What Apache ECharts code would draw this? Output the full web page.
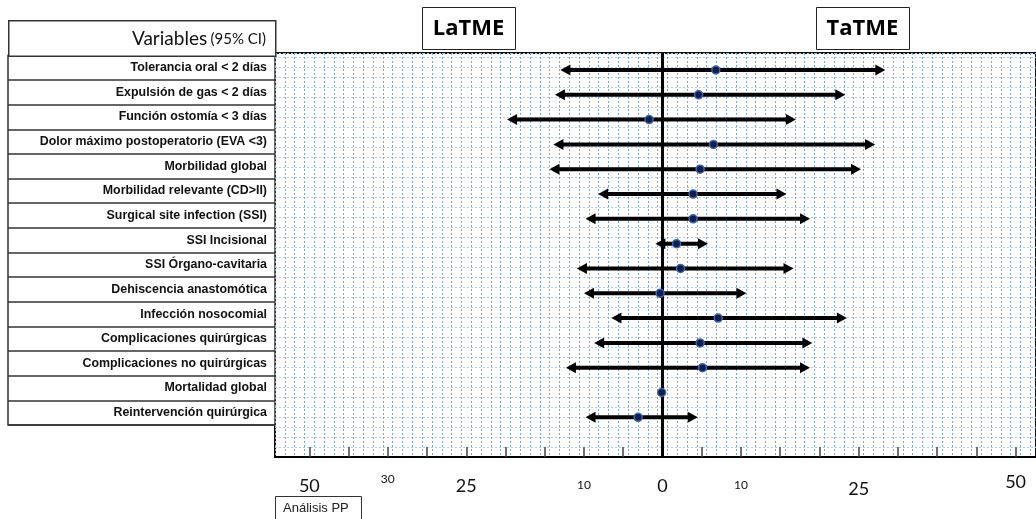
<!DOCTYPE html>
<html>
<head>
<meta charset="utf-8">
<script src="https://cdn.jsdelivr.net/npm/echarts@6/dist/echarts.min.js"></script>
<style>html,body{margin:0;padding:0;background:#fff}#c{width:1036px;height:519px}</style>
</head>
<body>
<div id="c"></div>
<script>
// ---- data ----
const categories = [
  'Tolerancia oral < 2 días',
  'Expulsión de gas < 2 días',
  'Función ostomía < 3 días',
  'Dolor máximo postoperatorio (EVA <3)',
  'Morbilidad global',
  'Morbilidad relevante (CD>II)',
  'Surgical site infection (SSI)',
  'SSI Incisional',
  'SSI Órgano-cavitaria',
  'Dehiscencia anastomótica',
  'Infección nosocomial',
  'Complicaciones quirúrgicas',
  'Complicaciones no quirúrgicas',
  'Mortalidad global',
  'Reintervención quirúrgica'
];
const ciLow    = [-13.0, -13.7, -19.8, -13.9, -14.4, -8.2, -9.8, -0.9, -10.9, -10.0, -6.5, -8.7, -12.3, null, -9.8];
const ciHigh   = [ 28.4,  23.3,  17.0,  27.1,  25.3, 15.8, 18.8,  5.8,  16.7,  10.7, 23.5, 19.1,  18.8, null,  4.5];
const estimate = [  6.8,   4.6,  -1.7,   6.5,   4.8,  3.9,  3.9,  1.8,   2.3,  -0.3,  7.1,  4.8,   5.1, -0.1, -3.1];
const tickValues = [-45,-40,-35,-30,-25,-20,-15,-10,-5,5,10,15,20,25,30,35,40,45];
const tickLabelValues = [-45, -35, -25, -10, 0, 10, 25, 45];
const tickLabelText   = ['50', '30', '25', '10', '0', '10', '25', '50'];
const groupLeft = 'LaTME';
const groupRight = 'TaTME';
const tableHeader = 'Variables';
const tableHeaderSub = '(95% CI)';
const footNote = 'Análisis PP';

// ---- styling ----
const tickLabelStyle = ['big', 'smallHi', 'big', 'small', 'big', 'small', 'bigLow', 'bigHi'];
const X_MIN = -49.375, X_MAX = 47.6;

const arrowData = [];
ciLow.forEach((lo, i) => { if (lo !== null && ciHigh[i] !== null) arrowData.push([lo, ciHigh[i], i]); });
const pointData = estimate.map((v, i) => [v, i]);

function renderArrow(params, api) {
  const a = api.coord([api.value(0), api.value(2)]);
  const b = api.coord([api.value(1), api.value(2)]);
  const y = a[1], hl = 10, hw = 5.5;
  return {
    type: 'group',
    children: [
      { type: 'line', shape: { x1: a[0] + hl - 1, y1: y, x2: b[0] - hl + 1, y2: y }, style: { stroke: '#000', lineWidth: 4 } },
      { type: 'polygon', shape: { points: [[a[0], y], [a[0] + hl, y - hw], [a[0] + hl, y + hw]] }, style: { fill: '#000' } },
      { type: 'polygon', shape: { points: [[b[0], y], [b[0] - hl, y - hw], [b[0] - hl, y + hw]] }, style: { fill: '#000' } }
    ]
  };
}

const chart = echarts.init(document.getElementById('c'), null, { renderer: 'canvas' });
chart.setOption({
  animation: false,
  backgroundColor: '#fff',
  grid: [
    { left: 275, top: 53, width: 762, height: 404, show: true, borderColor: '#111', borderWidth: 2, backgroundColor: '#fff', containLabel: false },
    { left: 8, top: 55.4, width: 267, height: 369.6, show: true, borderColor: '#333', borderWidth: 1.5, backgroundColor: '#fff', containLabel: false }
  ],
  xAxis: [
    {
      gridIndex: 0, type: 'value', min: X_MIN, max: X_MAX, position: 'bottom',
      axisLine: { show: true, onZero: false, lineStyle: { color: '#000', width: 2 } },
      axisTick: { show: true, inside: true, length: 10, customValues: tickValues, lineStyle: { color: '#444', width: 1.5 } },
      axisLabel: {
        show: true, margin: 20, customValues: tickLabelValues,
        formatter: function (v) {
          const k = tickLabelValues.indexOf(v);
          return k < 0 ? '' : '{' + tickLabelStyle[k] + '|' + tickLabelText[k] + '}';
        },
        rich: {
          big:     { fontFamily: 'Lato', fontSize: 18, lineHeight: 18, color: '#111' },
          bigLow:  { fontFamily: 'Lato', fontSize: 18, lineHeight: 24, color: '#111' },
          bigHi:   { fontFamily: 'Lato', fontSize: 18, lineHeight: 10, color: '#111' },
          small:   { fontFamily: 'Lato', fontSize: 12, lineHeight: 16, color: '#111' },
          smallHi: { fontFamily: 'Lato', fontSize: 12, lineHeight: 4, color: '#111' }
        }
      },
      splitLine: { show: false }, minorSplitLine: { show: false }
    },
    {
      gridIndex: 0, type: 'value', min: X_MIN, max: X_MAX, interval: 1.25, position: 'top',
      axisLine: { show: false }, axisTick: { show: false }, axisLabel: { show: false },
      splitLine: { show: true, lineStyle: { color: '#7fa2de', width: 1, type: [2, 2] } }
    },
    { gridIndex: 1, type: 'value', show: false, min: 0, max: 1 }
  ],
  yAxis: [
    { gridIndex: 0, type: 'value', inverse: true, min: -0.685, max: 15.6, show: false, splitLine: { show: false } },
    {
      gridIndex: 0, type: 'value', min: 0, max: 40.4, interval: 1, position: 'right',
      axisLine: { show: false }, axisTick: { show: false }, axisLabel: { show: false },
      splitLine: { show: true, lineStyle: { color: '#b4c8ec', width: 1, type: [2, 2] } }
    },
    {
      gridIndex: 1, type: 'category', data: categories, inverse: true, position: 'right',
      axisLine: { show: false }, axisTick: { show: false },
      axisLabel: { inside: true, align: 'right', margin: 8, interval: 0, fontFamily: 'Liberation Sans, Arial', fontWeight: 'bold', fontSize: 12.4, color: '#111' },
      splitLine: { show: true, interval: 0, lineStyle: { color: '#333', width: 1.5 } }
    }
  ],
  series: [
    {
      type: 'scatter', xAxisIndex: 0, yAxisIndex: 0, data: [], z: 1, silent: true,
      markLine: { silent: true, z: 1, symbol: 'none', label: { show: false }, animation: false,
        lineStyle: { color: '#000', width: 3, type: 'solid' }, data: [{ xAxis: 0 }] }
    },
    {
      type: 'custom', xAxisIndex: 0, yAxisIndex: 0, renderItem: renderArrow, data: arrowData, z: 3,
      encode: { x: [0, 1], y: 2 }, silent: true
    },
    {
      type: 'scatter', xAxisIndex: 0, yAxisIndex: 0, data: pointData, z: 6, symbol: 'circle', symbolSize: 8,
      itemStyle: { color: '#0f1f4a', borderColor: '#3a66b5', borderWidth: 1.5, opacity: 1 }, silent: true
    }
  ],
  graphic: [
    { type: 'rect', left: 8, top: 20, shape: { width: 267, height: 35.4 }, style: { fill: '#fff', stroke: '#333', lineWidth: 1.5 }, z: 10 },
    { type: 'text', x: 266, y: 39, z: 11, style: {
        text: '{a|' + tableHeader + '} {b|' + tableHeaderSub + '}', align: 'right', verticalAlign: 'middle',
        rich: { a: { fontFamily: 'Lato', fontSize: 19, fill: '#111' }, b: { fontFamily: 'Lato', fontSize: 15, fill: '#111' } } } },
    { type: 'rect', left: 422, top: 7, shape: { width: 93, height: 42 }, style: { fill: '#fff', stroke: '#222', lineWidth: 1 }, z: 10 },
    { type: 'text', x: 468.5, y: 28.5, z: 11, style: { text: groupLeft, align: 'center', verticalAlign: 'middle', fontFamily: 'Open Sans', fontWeight: 'bold', fontSize: 22, fill: '#000' } },
    { type: 'rect', left: 816, top: 7, shape: { width: 93, height: 42 }, style: { fill: '#fff', stroke: '#222', lineWidth: 1 }, z: 10 },
    { type: 'text', x: 862.5, y: 28.5, z: 11, style: { text: groupRight, align: 'center', verticalAlign: 'middle', fontFamily: 'Open Sans', fontWeight: 'bold', fontSize: 22, fill: '#000' } },
    { type: 'rect', left: 275, top: 496, shape: { width: 86, height: 26 }, style: { fill: '#fff', stroke: '#333', lineWidth: 1 }, z: 10 },
    { type: 'text', x: 283, y: 508, z: 11, style: { text: footNote, align: 'left', verticalAlign: 'middle', fontFamily: 'Liberation Sans, Arial', fontSize: 13, fill: '#222' } }
  ]
});
</script>
</body>
</html>
